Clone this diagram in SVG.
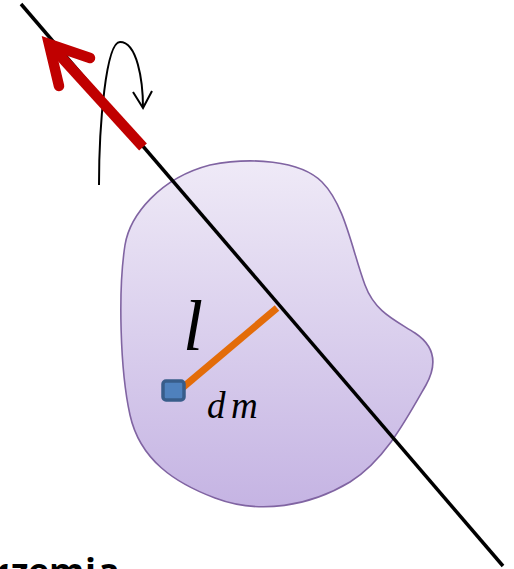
<svg xmlns="http://www.w3.org/2000/svg" width="514" height="569" viewBox="0 0 514 569">
  <style>
    .axis { stroke: #000; stroke-width: 3.5; fill: none; }
    .red { stroke: #c00000; stroke-width: 10.5; fill: none; }
    .thin { stroke: #000; stroke-width: 2; fill: none; }
    .radius { stroke: #e36c09; stroke-width: 7; fill: none; }
    .math { font-family: "Liberation Serif", "Times New Roman", serif; font-style: italic; fill: #000; }
    .caption { font-family: "Open Sans", "Liberation Sans", sans-serif; font-weight: 700; font-size: 36px; fill: #000; }
  </style>
  <defs>
    <linearGradient id="bodyGrad" x1="0" y1="0" x2="0" y2="1">
      <stop offset="0" stop-color="#efeaf7"/>
      <stop offset="1" stop-color="#c5b4e3"/>
    </linearGradient>
  </defs>

  <g id="body">
    <path d="M 210,165 C 250,157 300,160 322,182 C 345,205 352,250 365,285 C 375,312 395,320 415,333 C 436,347 437,365 426,385 C 406,420 385,460 350,482 C 310,506 260,515 215,498 C 175,483 140,460 130,415 C 120,370 118,290 125,245 C 130,215 160,178 210,165 Z" fill="url(#bodyGrad)" stroke="#8064a2" stroke-width="1.6"/>
  </g>

  <g id="connectors">
    <line class="axis" x1="21" y1="4" x2="503" y2="566"/>
    <line class="radius" x1="181" y1="389" x2="277" y2="308"/>
    <path class="thin" d="M 99,185 C 99,125 106,42 120,42 C 137,42 143,80 143,108"/>
    <path class="thin" d="M 133,92 L 143,108 L 152,91"/>
    <line class="red" x1="143" y1="147" x2="53" y2="48" stroke-linecap="butt"/>
    <path class="red" d="M 90,58 L 49,44 L 59,86" stroke-linecap="round" stroke-linejoin="miter" stroke-miterlimit="10"/>
  </g>

  <g id="dm">
    <rect x="163" y="381" width="21" height="19" rx="3" fill="#4f81bd" stroke="#385d8a" stroke-width="3.5"/>
  </g>

  <g id="labels">
    <text class="math" x="183" y="350" font-size="72">l</text>
    <text class="math" x="207" y="418" font-size="37">d<tspan x="231">m</tspan></text>
  </g>

  <g id="caption">
    <text class="caption" y="584"><tspan x="-8">r</tspan><tspan x="11">z</tspan><tspan x="28">e</tspan><tspan x="49">m</tspan><tspan x="85">i</tspan><tspan x="98">a</tspan></text>
  </g>
</svg>
